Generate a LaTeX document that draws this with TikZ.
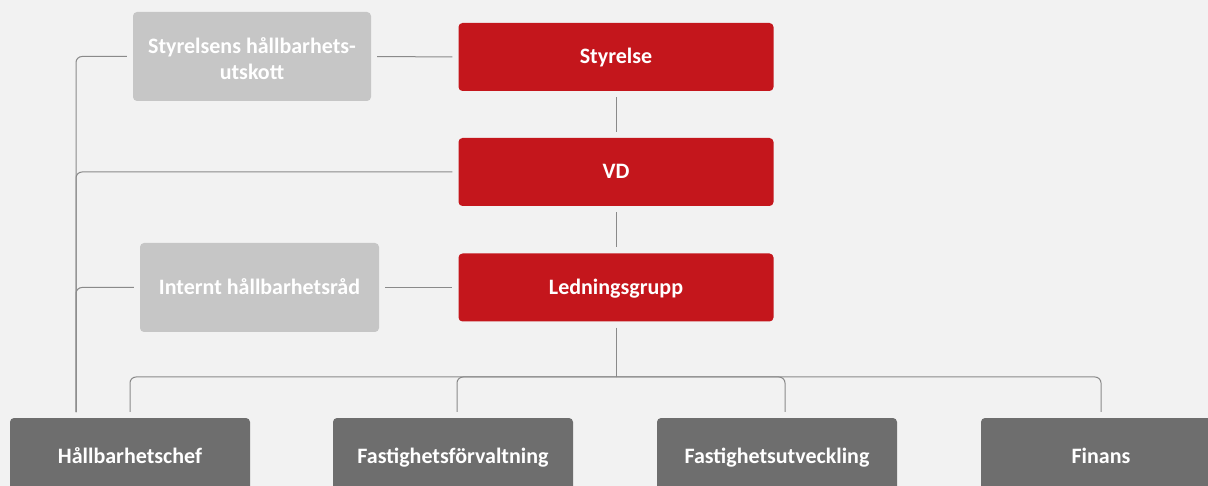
\documentclass[tikz,border=0pt]{standalone}
\usepackage{fontspec}
\setmainfont{Carlito}
\definecolor{bg}{HTML}{F2F2F2}
\definecolor{redc}{HTML}{C4161C}
\definecolor{lgray}{HTML}{C6C6C6}
\definecolor{dgray}{HTML}{6E6E6E}
\definecolor{linec}{HTML}{8A8A8A}
\begin{document}
\begin{tikzpicture}[x=1pt,y=-1pt,
  box/.style={rounded corners=4pt, inner sep=0pt, text=white, align=center,
    font=\fontsize{22}{26}\selectfont\bfseries},
  one/.style={text height=16pt, text depth=2pt},
  redbox/.style={box, one, fill=redc, minimum width=315pt, minimum height=68pt},
  lbox/.style={box, fill=lgray, minimum width=238pt, minimum height=89pt},
  dbox/.style={box, one, fill=dgray, minimum width=240pt, minimum height=76pt},
  conn/.style={draw=linec, line width=1pt},
  rc/.style={rounded corners=6pt}]
\fill[bg] (0,0) rectangle (1208,486);
\useasboundingbox (0,0) rectangle (1208,486);
\clip (0,0) rectangle (1208,486);
\node[redbox] (sty) at (616,57) {Styrelse};
\node[redbox] (vd) at (616,172) {VD};
\node[redbox] (lg) at (616,287.5) {Ledningsgrupp};
\node[lbox] (ustk) at (252,56.5) {};
\node[box] (ustkt) at ([yshift=-2pt]ustk.center) {Styrelsens hållbarhets-\\utskott};
\node[lbox, one, minimum width=239pt] (ir) at (259.5,287.5) {Internt hållbarhetsråd};
\node[dbox] (hc) at (130,456) {Hållbarhetschef};
\node[dbox] (ff) at (453,456) {Fastighetsförvaltning};
\node[dbox] (fu) at (777,456) {Fastighetsutveckling};
\node[dbox] (fi) at (1101,456) {Finans};
\coordinate (j) at (616,377);
\coordinate (sp) at (76,412);
\draw[conn, shorten <=6pt, shorten >=6pt] (ustk.east) -- (sty.west);
\draw[conn, shorten <=6pt, shorten >=6pt] (ir.east) -- (lg.west);
\draw[conn, shorten <=6pt, shorten >=6pt] (sty.south) -- (vd.north);
\draw[conn, shorten <=6pt, shorten >=6pt] (vd.south) -- (lg.north);
\draw[conn, shorten <=6pt] (lg.south) -- (j);
\draw[conn, rc, shorten >=6pt] (j) -| (hc.north);
\draw[conn, rc, shorten >=6pt] (j) -| ([xshift=4pt]ff.north);
\draw[conn, rc, shorten >=6pt] (j) -| ([xshift=8pt]fu.north);
\draw[conn, rc, shorten >=6pt] (j) -| (fi.north);
\draw[conn, rc] (sp) |- ([xshift=-6pt]ustk.west);
\draw[conn, rc] (sp) |- ([xshift=-6pt]vd.west);
\draw[conn, rc] (sp) |- ([xshift=-6pt]ir.west);
\end{tikzpicture}
\end{document}
